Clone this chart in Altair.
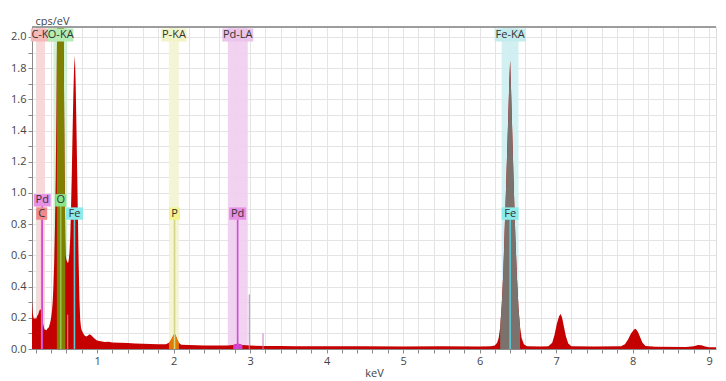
import altair as alt
import pandas as pd

# ---------------- spectrum (keV, cps/eV) ----------------
energy = [0.15, 0.155, 0.16, 0.17, 0.18, 0.19, 0.20, 0.21, 0.22, 0.23, 0.24, 0.25, 0.26, 0.27,
          0.28, 0.29, 0.30, 0.31, 0.32, 0.33, 0.34, 0.35, 0.36, 0.37, 0.38, 0.39, 0.40, 0.41,
          0.42, 0.43, 0.44, 0.45, 0.46, 0.47, 0.475, 0.48, 0.49, 0.50, 0.52, 0.54, 0.555, 0.565,
          0.575, 0.585, 0.59, 0.60, 0.61, 0.62, 0.63, 0.64, 0.65, 0.66, 0.67, 0.68, 0.69, 0.70,
          0.71, 0.72, 0.73, 0.74, 0.75, 0.76, 0.77, 0.78, 0.79, 0.80, 0.82, 0.84, 0.86, 0.88,
          0.90, 0.92, 0.94, 0.97, 1.00, 1.05, 1.10, 1.15, 1.20, 1.30, 1.40, 1.50, 1.60, 1.70,
          1.80, 1.90, 1.94, 1.97, 2.00, 2.015, 2.03, 2.05, 2.07, 2.10, 2.20, 2.30, 2.40, 2.50,
          2.60, 2.70, 2.78, 2.84, 2.90, 3.00, 3.20, 3.40, 3.60, 3.80, 4.00, 4.50, 5.00, 5.50,
          6.00, 6.15, 6.20, 6.23, 6.25, 6.27, 6.29, 6.31, 6.33, 6.35, 6.37, 6.39, 6.40, 6.41,
          6.43, 6.45, 6.47, 6.49, 6.51, 6.53, 6.55, 6.58, 6.62, 6.80, 6.90, 6.95, 6.98, 7.01,
          7.04, 7.06, 7.08, 7.10, 7.13, 7.16, 7.20, 7.50, 7.85, 7.90, 7.94, 7.98, 8.02, 8.04,
          8.07, 8.10, 8.13, 8.17, 8.30, 8.70, 8.80, 8.86, 8.90, 8.95, 9.00, 9.20]
cps = [0.31, 0.27, 0.23, 0.20, 0.19, 0.205, 0.19, 0.20, 0.215, 0.22, 0.235, 0.25, 0.255, 0.245,
       0.22, 0.18, 0.15, 0.13, 0.12, 0.125, 0.12, 0.13, 0.135, 0.14, 0.155, 0.175, 0.20, 0.24,
       0.30, 0.40, 0.55, 0.78, 1.10, 1.55, 1.85, 2.2, 2.8, 3.2, 3.5, 3.2, 2.6, 1.9,
       1.2, 0.70, 0.60, 0.57, 0.56, 0.55, 0.57, 0.62, 0.72, 0.90, 1.12, 1.38, 1.62, 1.80,
       1.88, 1.72, 1.45, 1.15, 0.85, 0.55, 0.32, 0.19, 0.14, 0.12, 0.10, 0.085, 0.08, 0.085,
       0.095, 0.09, 0.08, 0.065, 0.055, 0.05, 0.045, 0.046, 0.042, 0.04, 0.038, 0.036, 0.034, 0.032,
       0.03, 0.03, 0.04, 0.06, 0.09, 0.10, 0.085, 0.06, 0.04, 0.028, 0.026, 0.024, 0.023, 0.022,
       0.022, 0.022, 0.026, 0.035, 0.025, 0.022, 0.02, 0.02, 0.018, 0.018, 0.017, 0.017, 0.016, 0.017,
       0.016, 0.018, 0.022, 0.04, 0.07, 0.14, 0.28, 0.48, 0.78, 1.08, 1.40, 1.72, 1.85, 1.70,
       1.35, 1.00, 0.70, 0.45, 0.26, 0.14, 0.07, 0.03, 0.018, 0.016, 0.018, 0.04, 0.09, 0.16,
       0.21, 0.225, 0.20, 0.15, 0.08, 0.035, 0.018, 0.016, 0.017, 0.03, 0.06, 0.10, 0.125, 0.13,
       0.11, 0.075, 0.04, 0.02, 0.014, 0.013, 0.018, 0.025, 0.024, 0.016, 0.012, 0.012]

# ---------------- regions of interest (highlight bands) ----------------
roi_names = ["C-KA", "O-KA", "P-KA", "Pd-LA", "Fe-KA"]
roi_lo = [0.21, 0.43, 1.94, 2.71, 6.29]
roi_hi = [0.32, 0.61, 2.07, 2.97, 6.51]
roi_label_e = [0.30, 0.525, 2.005, 2.84, 6.40]
roi_band_color = ["#f7d4d4", "#cdf0cd", "#f3f3d2", "#efcdef", "#cdeef0"]
roi_box_color = ["#f4baba", "#b4ecb4", "#f3f3c8", "#eac4ea", "#c4ecec"]

# spectrum segments painted in element colours
fill_lo = [0.475, 1.94, 2.72, 6.27]
fill_hi = [0.585, 2.07, 2.96, 6.53]
fill_color = ["#808000", "#e07a00", "#d040d0", "#7b726e"]

# ---------------- element markers ----------------
mark_lab = ["C", "Pd", "O", "Fe", "P", "Pd", "Fe"]
mark_e = [0.277, 0.284, 0.525, 0.705, 2.013, 2.838, 6.400]
mark_row = [0, 1, 1, 0, 0, 0, 0]
elem_box = {"C": "#f08a8a", "Pd": "#e690e6", "O": "#8ae48a", "Fe": "#8ceaea", "P": "#f4f48c"}
elem_line = {"C": "#ec80b0", "Pd": "#d04cd0", "O": "#9cc050", "Fe": "#5ccad4", "P": "#d4d484"}

# thin extra line markers
spike_e = [2.99, 3.17, 0.617]
spike_h = [0.35, 0.10, 0.22]
spike_color = ["#c87ac8", "#c87ac8", "#a8a8a8"]

PX_PER_KEV = 76.5
W, H = 684, 322
X_MIN = 0.15
X_MAX = X_MIN + W / PX_PER_KEV
Y_MAX = 2.064
FONT = "Open Sans"

spec = pd.DataFrame({"e": energy, "c": cps})
roi = pd.DataFrame({"name": roi_names, "lo": roi_lo, "hi": roi_hi, "mid": roi_label_e,
                    "band": roi_band_color, "box": roi_box_color})
roi["shape"] = [
    "M{a},-0.65L{b},-0.65L{b},0.65L{a},0.65Z".format(a=-(len(n) * 5.6 + 3) / 20, b=(len(n) * 5.6 + 3) / 20)
    for n in roi_names]

marks = pd.DataFrame({"lab": mark_lab, "e": mark_e, "row": mark_row})
marks["y"] = 0.868 + 0.085 * marks["row"]
marks["y0"] = 0.0
marks["box"] = [elem_box[l] for l in mark_lab]
marks["line"] = [elem_line[l] for l in mark_lab]
marks["shape"] = [
    "M{a},-0.62L{b},-0.62L{b},0.62L{a},0.62Z".format(a=-(len(l) * 6 + 5) / 20, b=(len(l) * 6 + 5) / 20)
    for l in mark_lab]

spikes = pd.DataFrame({"e": spike_e, "h": spike_h, "col": spike_color, "y0": 0.0})

xscale = alt.Scale(domain=[X_MIN, X_MAX], nice=False, zero=False)
yscale = alt.Scale(domain=[0, Y_MAX], nice=False, zero=True)

x_ticks = [round(0.2 * i, 1) for i in range(1, 46)]
y_ticks = [round(0.1 * i, 1) for i in range(0, 21)]

x_axis = alt.Axis(values=x_ticks, tickCount=200,
                  labelExpr="abs(datum.value - round(datum.value)) < 0.001 ? format(datum.value, 'd') : ''",
                  labelOverlap=False,
                  grid=True, gridColor="#e4e4e4", gridWidth=1, domainColor="#8a8a8a",
                  tickColor="#8a8a8a", tickSize=4, labelFont=FONT, labelFontSize=11,
                  labelColor="#444444", labelPadding=2, title="keV", titleFont=FONT,
                  titleFontSize=11, titleFontWeight="normal", titleColor="#444444", titlePadding=1)
y_axis = alt.Axis(values=y_ticks, tickCount=200,
                  labelExpr="round(datum.value * 10) % 2 == 0 ? format(datum.value, '.1f') : ''",
                  labelOverlap=False,
                  grid=True, gridColor="#e4e4e4", gridWidth=1, domainColor="#8a8a8a",
                  tickColor="#8a8a8a", tickSize=4, labelFont=FONT, labelFontSize=11,
                  labelColor="#444444", labelPadding=2, title="cps/eV", titleFont=FONT,
                  titleFontSize=11, titleFontWeight="normal", titleColor="#444444",
                  titleAngle=0, titleAlign="left", titleBaseline="bottom", titleX=3, titleY=-1)

# highlight bands
bands = alt.Chart(roi).mark_rect(opacity=0.9).encode(
    x=alt.X("lo:Q", scale=xscale, axis=x_axis),
    x2="hi:Q",
    y=alt.value(0), y2=alt.value(H),
    color=alt.Color("band:N", scale=None),
)

# full spectrum
spectrum = alt.Chart(spec).mark_area(color="#c40000", clip=True, interpolate="linear").encode(
    x=alt.X("e:Q", scale=xscale, axis=x_axis),
    y=alt.Y("c:Q", scale=yscale, axis=y_axis),
)

# element-coloured parts of the spectrum
fills = []
for lo, hi, col in zip(fill_lo, fill_hi, fill_color):
    fills.append(
        alt.Chart(spec).transform_filter(f"datum.e >= {lo} && datum.e <= {hi}")
        .mark_area(color=col, clip=True, interpolate="linear")
        .encode(x=alt.X("e:Q", scale=xscale), y=alt.Y("c:Q", scale=yscale))
    )

spike_rules = alt.Chart(spikes).mark_rule(strokeWidth=1).encode(
    x=alt.X("e:Q", scale=xscale), y=alt.Y("y0:Q", scale=yscale), y2="h:Q",
    color=alt.Color("col:N", scale=None),
)

elem_rules = alt.Chart(marks).mark_rule(strokeWidth=1.6).encode(
    x=alt.X("e:Q", scale=xscale), y=alt.Y("y0:Q", scale=yscale), y2="y:Q",
    color=alt.Color("line:N", scale=None),
)

elem_boxes = alt.Chart(marks).mark_point(filled=True, opacity=1, strokeWidth=0, size=400).encode(
    x=alt.X("e:Q", scale=xscale), y=alt.Y("y:Q", scale=yscale),
    shape=alt.Shape("shape:N", scale=None),
    color=alt.Color("box:N", scale=None),
)
elem_text = alt.Chart(marks).mark_text(font=FONT, fontSize=11, color="#333333",
                                       baseline="middle", align="center").encode(
    x=alt.X("e:Q", scale=xscale), y=alt.Y("y:Q", scale=yscale), text="lab:N",
)

# ROI labels at the top, drawn one after another so later boxes cover earlier text
roi_layers = []
for n in roi_names:
    sub = alt.Chart(roi).transform_filter(alt.datum.name == n)
    roi_layers.append(
        sub.mark_point(filled=True, opacity=1, strokeWidth=0, size=400).encode(
            x=alt.X("mid:Q", scale=xscale), y=alt.value(8),
            shape=alt.Shape("shape:N", scale=None),
            color=alt.Color("box:N", scale=None),
        )
    )
    roi_layers.append(
        sub.mark_text(font=FONT, fontSize=11, color="#333333",
                      baseline="middle", align="center").encode(
            x=alt.X("mid:Q", scale=xscale), y=alt.value(8), text="name:N",
        )
    )

top_border = alt.Chart(roi).mark_rule(color="#9a9a9a", strokeWidth=1).encode(
    x=alt.value(0), x2=alt.value(W), y=alt.value(0),
)

chart = alt.layer(
    bands, spectrum, *fills, spike_rules, elem_rules, elem_boxes, elem_text,
    *roi_layers, top_border,
).properties(
    width=W, height=H,
    autosize=alt.AutoSizeParams(type="none"),
    padding={"left": 24, "top": 19, "right": 2, "bottom": 32},
).configure_view(stroke=None).configure(background="white")

chart.save("out.html", embed_options={"renderer": "svg", "actions": False})
